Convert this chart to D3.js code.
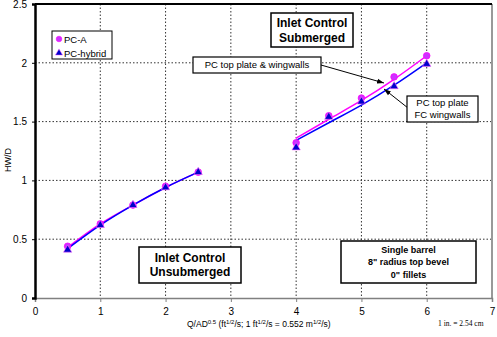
<!DOCTYPE html>
<html><head><meta charset="utf-8">
<script src="https://cdn.jsdelivr.net/npm/d3@7"></script>
<style>
body{margin:0;background:#fff;}
svg{display:block;font-family:"Liberation Sans",Arial,sans-serif;}
</style></head>
<body>
<svg id="c" width="497" height="337"></svg>
<script>
const xTicks = [0,1,2,3,4,5,6,7];
const yTicks = [0,0.5,1,1.5,2,2.5];
const qValues = [0.5,1,1.5,2,2.5,4,4.5,5,5.5,6];
const pcA = [0.44,0.63,0.79,0.95,1.07,1.32,1.55,1.70,1.88,2.06];
const pcHybrid = [0.41,0.62,0.79,0.94,1.07,1.28,1.54,1.67,1.80,1.99];
// fitted trend curves
const fitLowX = [0.5,1,1.5,2,2.5];
const fitLowA = [0.43,0.63,0.79,0.94,1.07];
const fitLowH = [0.42,0.62,0.79,0.94,1.07];
const fitHighX = [4,4.5,5,5.5,6];
const fitHighA = [1.36,1.52,1.68,1.86,2.06];
const fitHighH = [1.34,1.49,1.64,1.81,2.00];

const svg = d3.select("#c");
const L=35,R=492,T=4,B=298;
const x = d3.scaleLinear().domain([0,7]).range([L,R]);
const y = d3.scaleLinear().domain([0,2.5]).range([B,T]);

// grid
const g = svg.append("g");
xTicks.slice(1,-1).forEach(v=>g.append("line").attr("x1",x(v)).attr("x2",x(v)).attr("y1",T).attr("y2",B)
  .attr("stroke","#333").attr("stroke-width",1).attr("stroke-dasharray","1.5,2"));
yTicks.slice(1,-1).forEach(v=>g.append("line").attr("x1",L).attr("x2",R).attr("y1",y(v)).attr("y2",y(v))
  .attr("stroke","#333").attr("stroke-width",1).attr("stroke-dasharray","1.5,2"));

// frame
svg.append("line").attr("x1",R).attr("x2",R).attr("y1",T).attr("y2",B).attr("stroke","#999").attr("stroke-width",2);
svg.append("line").attr("x1",L).attr("x2",R).attr("y1",T).attr("y2",T).attr("stroke","#000").attr("stroke-width",2);

// axes
const xa = svg.append("g").attr("transform",`translate(0,${B})`)
  .call(d3.axisBottom(x).tickValues(xTicks).tickFormat(d3.format("d")).tickSize(4).tickPadding(6));
xa.select(".domain").attr("stroke","#808080").attr("stroke-width",1.5);
xa.selectAll("line").attr("stroke","#808080");
xa.selectAll("text").attr("font-size",10).attr("font-family","Liberation Sans, Arial, sans-serif").attr("fill","#000");
const ya = svg.append("g").attr("transform",`translate(${L},0)`)
  .call(d3.axisLeft(y).tickValues(yTicks).tickFormat(d=>d).tickSize(3).tickPadding(5));
ya.select(".domain").attr("stroke","#000").attr("stroke-width",2.5);
ya.selectAll("line").attr("stroke","#000");
ya.selectAll("text").attr("font-size",10).attr("font-family","Liberation Sans, Arial, sans-serif").attr("fill","#000");

// fit lines
const line = d3.line().x(d=>x(d[0])).y(d=>y(d[1])).curve(d3.curveMonotoneX);
function drawFit(xs,ys,col){
  svg.append("path").attr("d",line(xs.map((v,i)=>[v,ys[i]]))).attr("fill","none").attr("stroke",col).attr("stroke-width",1.5);
}
drawFit(fitLowX,fitLowA,"#ff00ff");
drawFit(fitHighX,fitHighA,"#ff00ff");
drawFit(fitLowX,fitLowH,"#0000ff");
drawFit(fitHighX,fitHighH,"#0000ff");

// markers
const tri = d3.symbol().type(d3.symbolTriangle).size(30);
svg.append("g").selectAll("circle").data(qValues).join("circle")
  .attr("cx",d=>x(d)).attr("cy",(d,i)=>y(pcA[i])).attr("r",3.3).attr("fill","#cc33ff").attr("stroke","#ff00ff").attr("stroke-width",0.8);
svg.append("g").selectAll("path").data(qValues).join("path")
  .attr("d",tri).attr("transform",(d,i)=>`translate(${x(d)},${y(pcHybrid[i])})`)
  .attr("fill","#0000cc").attr("stroke","#ff66ff").attr("stroke-width",0.6);

// legend
const lg = svg.append("g");
lg.append("rect").attr("x",52).attr("y",31).attr("width",60).attr("height",28).attr("fill","#fff").attr("stroke","#000").attr("stroke-width",1);
lg.append("circle").attr("cx",59).attr("cy",39).attr("r",2.8).attr("fill","#cc33ff").attr("stroke","#ff00ff").attr("stroke-width",0.6);
lg.append("path").attr("d",d3.symbol().type(d3.symbolTriangle).size(22)).attr("transform","translate(59,53)").attr("fill","#0000cc").attr("stroke","#ff66ff").attr("stroke-width",0.5);
lg.append("text").attr("x",64).attr("y",42.5).attr("font-size",9.5).text("PC-A");
lg.append("text").attr("x",64).attr("y",56.5).attr("font-size",9.5).text("PC-hybrid");

// boxes
function box(x0,y0,w,h,lines,fs,bold,lh,sw){
  svg.append("rect").attr("x",x0).attr("y",y0).attr("width",w).attr("height",h).attr("fill","#fff").attr("stroke","#000").attr("stroke-width",sw||1.5);
  const n=lines.length;
  lines.forEach((t,i)=>svg.append("text").attr("x",x0+w/2).attr("y",y0+h/2+(i-(n-1)/2)*lh).attr("dy","0.35em")
    .attr("text-anchor","middle").attr("font-size",fs).attr("font-weight",bold?"bold":"normal").text(t));
}
// arrows
const defs = svg.append("defs");
defs.append("marker").attr("id","ah").attr("viewBox","0 0 10 10").attr("refX",10).attr("refY",5)
  .attr("markerWidth",7).attr("markerHeight",7).attr("orient","auto")
  .append("path").attr("d","M0,1.5 L10,5 L0,8.5 Z").attr("fill","#000");
svg.append("line").attr("x1",321).attr("y1",65).attr("x2",384).attr("y2",83).attr("stroke","#000").attr("stroke-width",1).attr("marker-end","url(#ah)");
svg.append("line").attr("x1",408).attr("y1",108).attr("x2",384).attr("y2",89).attr("stroke","#000").attr("stroke-width",1).attr("marker-end","url(#ah)");

box(271,13,82,34,["Inlet Control","Submerged"],12,true,15,1.5);
box(193,57,128,16,["PC top plate & wingwalls"],9.5,false,0,1.2);
box(407,96,71,26,["PC top plate","FC wingwalls"],9.5,false,12,1.2);
box(139,247,102,36,["Inlet Control","Unsubmerged"],12,true,14.5,1.5);
box(341,241,135,42,["Single barrel","8\" radius top bevel","0\" fillets"],9,true,12.5,1.5);

// axis titles
svg.append("text").attr("transform","translate(11,160) rotate(-90)").attr("text-anchor","middle").attr("font-size",9).text("HW/D");
const xt = svg.append("text").attr("x",187).attr("y",327).attr("font-size",8.5);
xt.append("tspan").text("Q/AD");
xt.append("tspan").attr("dy",-3).attr("font-size",6).text("0.5");
xt.append("tspan").attr("dy",3).text(" (ft");
xt.append("tspan").attr("dy",-3).attr("font-size",6).text("1/2");
xt.append("tspan").attr("dy",3).text("/s; 1 ft");
xt.append("tspan").attr("dy",-3).attr("font-size",6).text("1/2");
xt.append("tspan").attr("dy",3).text("/s = 0.552 m");
xt.append("tspan").attr("dy",-3).attr("font-size",6).text("1/2");
xt.append("tspan").attr("dy",3).text("/s)");
svg.append("text").attr("x",438).attr("y",326).attr("font-size",7.5).attr("font-family","Liberation Serif, Times New Roman, serif").text("1 in. = 2.54 cm");
</script>
</body></html>
